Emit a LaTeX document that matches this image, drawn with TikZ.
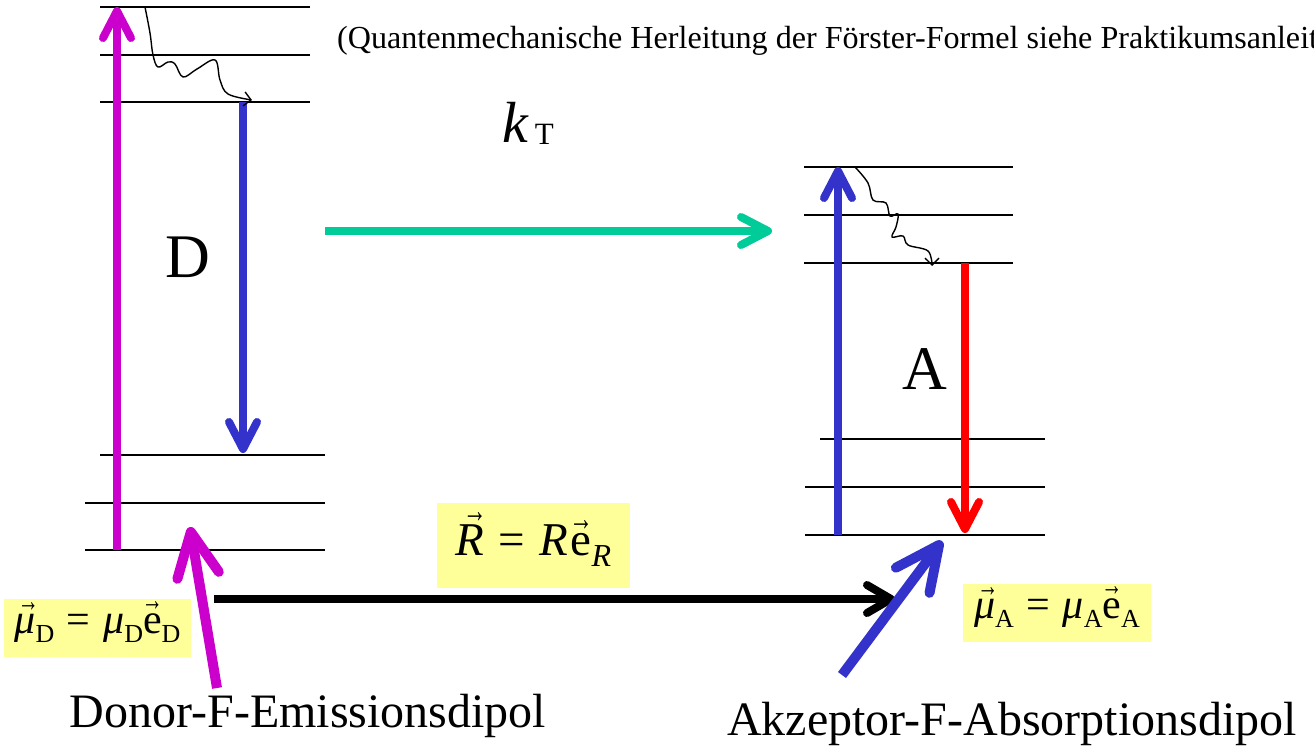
\documentclass[tikz,border=0pt]{standalone}
\usepackage[no-math]{fontspec}
\usepackage{graphicx}
\setmainfont{Liberation Serif}
\usetikzlibrary{arrows.meta}
\definecolor{mag}{HTML}{CC00CC}
\definecolor{dblue}{HTML}{3333CC}
\definecolor{tgreen}{HTML}{00CC99}
\definecolor{lyellow}{HTML}{FFFF99}
% vector arrow over a letter: \vh[shift]{letter}
\newcommand{\vh}[2][0em]{{\setbox0=\hbox{#2}\rlap{\hspace{#1}\makebox[\wd0][c]{\raisebox{\dimexpr\ht0+0.06em\relax}[0pt][0pt]{\scalebox{0.5}[0.75]{→}}}}\box0}}
\newcommand{\sbx}[2]{\raisebox{-0.22em}{\fontsize{#1}{#1}\selectfont #2}}
\begin{document}
\begin{tikzpicture}[x=1pt,y=-1pt,
  level/.style={line width=1.5pt,black},
  bigarrow/.style={line width=8pt,-{Straight Barb[length=27pt,width=28pt,round]}},
  dipole/.style={line width=10pt,-{Straight Barb[length=44pt,width=42pt,round]}},
  wavy/.style={line width=1.4pt,-{Straight Barb[length=7pt,width=14pt]}},
  box/.style={fill=lyellow,inner sep=0pt,anchor=center},
  big/.style={font=\fontsize{62}{70}\selectfont},
  caption/.style={font=\fontsize{48}{56}\selectfont,anchor=base}]
\useasboundingbox (0,0) rectangle (1314,748);
\clip (0,0) rectangle (1314,748);
\fill[white] (0,0) rectangle (1314,748);

% header
\node[anchor=base west,inner sep=0pt,font=\fontsize{32.1}{36}\selectfont] (hdr) at (337,48)
  {(Quantenmechanische Herleitung der Förster-Formel siehe Praktikumsanleit};

% donor levels
\draw[level] (100,7) -- (310,7);
\draw[level] (100,55) -- (310,55);
\draw[level] (100,102) -- (310,102);
\draw[level] (100,455) -- (325,455);
\draw[level] (85,503) -- (325,503);
\draw[level] (85,550) -- (325,550);

% acceptor levels
\draw[level] (804,167) -- (1013,167);
\draw[level] (804,215) -- (1013,215);
\draw[level] (804,263) -- (1013,263);
\draw[level] (820,439) -- (1045,439);
\draw[level] (805,487) -- (1045,487);
\draw[level] (805,535) -- (1045,535);

% coordinates
\coordinate (dexB) at (117,550);
\coordinate (dexT) at (117,7);
\coordinate (demT) at (243,102);
\coordinate (demB) at (243,453);
\coordinate (aabB) at (838,535);
\coordinate (aabT) at (838,167);
\coordinate (aemT) at (965,263);
\coordinate (aemB) at (965,533);
\coordinate (kS) at (325,231);
\coordinate (kE) at (772,231);
\coordinate (rS) at (214,599);
\coordinate (rE) at (895,599);
\coordinate (mdS) at (217,688);
\coordinate (mdE) at (190,527);
\coordinate (maS) at (842,675);
\coordinate (maE) at (942,541);

% transitions
\draw[bigarrow,mag] (dexB) -- (dexT);
\draw[bigarrow,dblue] (demT) -- (demB);
\draw[bigarrow,dblue] (aabB) -- (aabT);
\draw[bigarrow,red] (aemT) -- (aemB);
\draw[bigarrow,tgreen] (kS) -- (kE);

% relaxation squiggles
\draw[wavy] plot[smooth,tension=0.6] coordinates {(145,7) (150,33) (153,55) (158,67) (168,62) (175,64) (183,77) (197,69) (215,60) (220,80) (228,94) (252,100)};
\draw[wavy] plot[smooth,tension=0.6] coordinates {(855,167) (868,183) (873,200) (886,203) (890,216) (898,214) (896,227) (892,237) (903,236) (908,245) (928,251) (932,266)};

% labels
\node[big,inner sep=0pt] (D) at (188,257) {D};
\node[big,inner sep=0pt] (A) at (925,369) {A};
\node[inner sep=0pt,anchor=base west] (kT) at (502,142)
  {\fontsize{58}{64}\selectfont\textit{k}\kern6pt\raisebox{-2pt}{\fontsize{31}{34}\selectfont T}};

% distance vector
\node[box,minimum width=193pt,minimum height=85pt] (Rbox) at (533.5,545.5)
  {\fontsize{47}{52}\selectfont\vh[0.1em]{\textit{R}}\hspace{0.3em}=\hspace{0.3em}\textit{R}\kern0.06em\vh{e}\sbx{32}{\textit{R}}};
\draw[line width=8pt,-{Straight Barb[length=24pt,width=28pt,round]}] (rS) -- (rE);

% dipoles
\draw[dipole,mag] (mdS) -- (mdE);
\draw[dipole,dblue] (maS) -- (maE);

\node[box,minimum width=187pt,minimum height=58pt] (muD) at (97.5,628)
  {\fontsize{42}{46}\selectfont\vh[0.08em]{\textit{μ}}\sbx{26}{D}\hspace{0.3em}=\hspace{0.3em}\textit{μ}\sbx{26}{D}\vh{e}\sbx{26}{D}};
\node[box,minimum width=188pt,minimum height=58pt] (muA) at (1057,613)
  {\fontsize{42}{46}\selectfont\vh[0.08em]{\textit{μ}}\sbx{26}{A}\hspace{0.3em}=\hspace{0.3em}\textit{μ}\sbx{26}{A}\vh{e}\sbx{26}{A}};

\node[caption] (don) at (308,727) {Donor-F-Emissionsdipol};
\node[caption] (akz) at (1012,735) {Akzeptor-F-Absorptionsdipol};
\end{tikzpicture}
\end{document}
